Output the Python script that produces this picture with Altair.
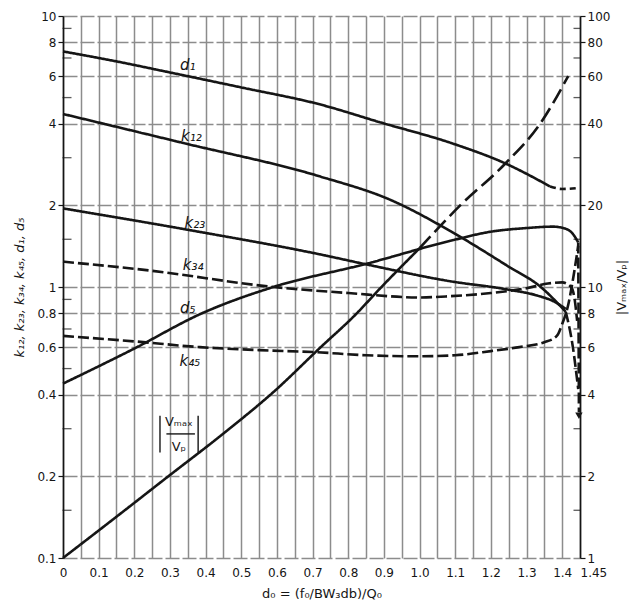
import altair as alt
import pandas as pd

# ---------------- data ----------------
# left-axis curves (solid parts)
d1_x = [0, 0.15, 0.31, 0.5, 0.72, 0.89, 1.094, 1.24, 1.366]
d1_y = [7.4, 6.8, 6.15, 5.45, 4.72, 4.05, 3.38, 2.86, 2.35]
d1_dash_x = [1.366, 1.40, 1.445]
d1_dash_y = [2.35, 2.3, 2.32]

k12_x = [0, 0.337, 0.72, 0.917, 1.10, 1.245, 1.34, 1.41]
k12_y = [4.35, 3.4, 2.56, 2.1, 1.57, 1.2, 1.0, 0.81]
k12_dash_x = [1.41, 1.43, 1.445]
k12_dash_y = [0.81, 0.6, 0.42]

k23_x = [0, 0.357, 0.72, 0.853, 1.086, 1.245, 1.33, 1.38, 1.41]
k23_y = [1.95, 1.62, 1.32, 1.21, 1.05, 0.98, 0.93, 0.88, 0.83]

k34_x = [0, 0.244, 0.59, 0.8, 1.0, 1.086, 1.2, 1.3, 1.36, 1.40, 1.425, 1.435, 1.442]
k34_y = [1.24, 1.15, 1.0, 0.95, 0.915, 0.925, 0.95, 0.99, 1.03, 1.04, 1.0, 0.9, 0.75]

k45_x = [0, 0.2, 0.384, 0.55, 0.707, 0.85, 1.0, 1.1, 1.2, 1.28, 1.35, 1.385, 1.40, 1.417, 1.432, 1.445]
k45_y = [0.66, 0.63, 0.6, 0.585, 0.575, 0.56, 0.555, 0.56, 0.58, 0.6, 0.625, 0.66, 0.73, 0.86, 1.1, 1.42]

d5_x = [0, 0.197, 0.39, 0.59, 0.853, 1.086, 1.2, 1.3, 1.374, 1.41, 1.43, 1.445]
d5_y = [0.44, 0.59, 0.8, 1.0, 1.22, 1.48, 1.6, 1.65, 1.67, 1.64, 1.57, 1.46]
d5_dash_x = [1.445, 1.447]
d5_dash_y = [1.46, 0.345]

# right-axis curve |Vmax/Vp|
vm_x = [0, 0.15, 0.295, 0.45, 0.595, 0.72, 0.82, 0.89, 1.0]
vm_y = [1, 1.42, 2.0, 2.88, 4.15, 5.95, 7.9, 9.9, 13.9]
vm_dash_x = [1.0, 1.114, 1.24, 1.338, 1.417]
vm_dash_y = [13.9, 20, 28.5, 40, 60]

# arrow at the end of the falling dashed line
arrow_x = [1.447]
arrow_y = [0.335]

# curve labels
lab_text = ["d\u2081", "k\u2081\u2082", "k\u2082\u2083", "k\u2083\u2084", "d\u2085", "k\u2084\u2085"]
lab_x = [0.35, 0.36, 0.37, 0.365, 0.35, 0.356]
lab_y = [6.6, 3.6, 1.72, 1.21, 0.835, 0.535]

# |Vmax / Vp| annotation
vlab_text = ["V\u2098\u2090\u2093", "V\u209a"]
vlab_x = [0.325, 0.325]
vlab_y = [0.318, 0.257]
vbar_x = [0.272, 0.379, 0.29]
vbar_x2 = [0.272, 0.379, 0.37]
vbar_y = [0.245, 0.245, 0.287]
vbar_y2 = [0.335, 0.335, 0.287]

# axis values
x_grid_vals = [round(i * 0.05, 2) for i in range(30)]
left_vals = [0.1, 0.2, 0.4, 0.6, 0.8, 1, 2, 4, 6, 8, 10]
right_vals = [1, 2, 4, 6, 8, 10, 20, 40, 60, 80, 100]
minor_left = [0.15, 0.3, 0.5, 0.7, 0.9, 1.5, 3, 5, 7, 9]

# ---------------- tables ----------------
def seg(name, style, xs, ys):
    return pd.DataFrame({"d0": xs, "val": ys, "series": name, "style": style,
                         "ord": list(range(len(xs)))})

left_df = pd.concat([
    seg("d1", "solid", d1_x, d1_y),
    seg("d1b", "short", d1_dash_x, d1_dash_y),
    seg("k12", "solid", k12_x, k12_y),
    seg("k12b", "dash", k12_dash_x, k12_dash_y),
    seg("k23", "solid", k23_x, k23_y),
    seg("k34", "dash", k34_x, k34_y),
    seg("k45", "dash", k45_x, k45_y),
    seg("d5", "solid", d5_x, d5_y),
    seg("d5b", "dash", d5_dash_x, d5_dash_y),
], ignore_index=True)

right_df = pd.concat([
    seg("vm", "solid", vm_x, vm_y),
    seg("vmb", "long", vm_dash_x, vm_dash_y),
], ignore_index=True)

lab_df = pd.DataFrame({"d0": lab_x, "val": lab_y, "t": lab_text})
vlab_df = pd.DataFrame({"d0": vlab_x, "val": vlab_y, "t": vlab_text})
vbar_df = pd.DataFrame({"d0": vbar_x, "d02": vbar_x2, "val": vbar_y, "val2": vbar_y2})
arrow_df = pd.DataFrame({"d0": arrow_x, "val": arrow_y})
minor_df = pd.DataFrame({"val": minor_left})

# ---------------- scales / axes ----------------
FONT = "DejaVu Sans"
INK = "#151515"
GRID = "#8c8c8c"

xscale = alt.Scale(domain=[0, 1.45], nice=False, zero=False)
yl_scale = alt.Scale(type="log", domain=[0.1, 10], nice=False)
yr_scale = alt.Scale(type="log", domain=[1, 100], nice=False)

xaxis = alt.Axis(
    values=x_grid_vals,
    labelExpr="abs(datum.value*10 - round(datum.value*10)) > 0.001 ? (datum.value > 1.44 ? '1.45' : '') : (datum.value == 0 ? '0' : format(datum.value, '.1f'))",
    labelAlign={"expr": "datum.value > 1.44 ? 'left' : 'center'"},
    grid=True, gridColor=GRID, gridWidth=1.5, gridOpacity=1,
    ticks=False, domain=False, labelOverlap=False, labelFlush=False,
    labelFont=FONT, labelFontSize=12, labelColor=INK, labelPadding=9,
    title="d\u2080 = (f\u2080/BW\u2083db)/Q\u2080",
    titleFont=FONT, titleFontSize=13, titleFontWeight="normal", titleColor=INK,
    titlePadding=9,
)

ylaxis = alt.Axis(
    values=left_vals,
    labelExpr="datum.value < 1 ? format(datum.value, '.1f') : format(datum.value, 'd')",
    grid=True, gridColor=GRID, gridWidth=1.4, gridOpacity=1, gridDash=[14, 3],
    domain=True, domainColor=INK, domainWidth=1.6,
    ticks=True, tickSize=5, tickColor=INK, tickWidth=1.2,
    labelFont=FONT, labelFontSize=12, labelColor=INK, labelPadding=2,
    title="k\u2081\u2082, k\u2082\u2083, k\u2083\u2084, k\u2084\u2085, d\u2081, d\u2085",
    titleFont=FONT, titleFontSize=13, titleFontWeight="normal", titleFontStyle="italic",
    titleColor=INK, titlePadding=10,
)

yraxis = alt.Axis(
    orient="right", values=right_vals, format="d",
    grid=False, domain=True, domainColor=INK, domainWidth=1.6,
    ticks=True, tickSize=5, tickColor=INK, tickWidth=1.2,
    labelFont=FONT, labelFontSize=12, labelColor=INK, labelPadding=2,
    title="|V\u2098\u2090\u2093/V\u209a|", titleAngle=270,
    titleFont=FONT, titleFontSize=13, titleFontWeight="normal", titleColor=INK,
    titlePadding=19,
)

dash_scale = alt.Scale(domain=["solid", "dash", "long", "short"],
                       range=[[1, 0], [11, 4], [16, 6], [6, 4]])

X = alt.X("d0:Q", scale=xscale, axis=xaxis)
YL = alt.Y("val:Q", scale=yl_scale, axis=ylaxis)

# ---------------- layers ----------------
lines_left = alt.Chart(left_df).mark_line(
    color=INK, strokeWidth=2.6, interpolate="monotone", strokeCap="butt"
).encode(
    x=X, y=YL,
    detail="series:N",
    strokeDash=alt.StrokeDash("style:N", scale=dash_scale, legend=None),
    order="ord:Q",
)

minor_left_ticks = alt.Chart(minor_df).mark_tick(
    orient="horizontal", size=9, thickness=1.3, color=INK
).encode(x=alt.value(4), y=YL)

minor_right_ticks = alt.Chart(minor_df).mark_tick(
    orient="horizontal", size=7, thickness=1.3, color=INK
).encode(x=alt.value(514), y=YL)

labels = alt.Chart(lab_df).mark_text(
    font=FONT, fontSize=15, fontStyle="italic", color=INK
).encode(x=X, y=YL, text="t:N")

vlabels = alt.Chart(vlab_df).mark_text(
    font=FONT, fontSize=13, color=INK
).encode(x=X, y=YL, text="t:N")

vbars = alt.Chart(vbar_df).mark_rule(color=INK, strokeWidth=1.4).encode(
    x=X, x2="d02:Q", y=YL, y2="val2:Q",
)

arrow = alt.Chart(arrow_df).mark_point(
    shape="triangle-down", filled=True, color=INK, size=55, opacity=1
).encode(x=X, y=YL)

left_group = alt.layer(lines_left, minor_left_ticks, minor_right_ticks,
                       labels, vlabels, vbars, arrow)

line_right = alt.Chart(right_df).mark_line(
    color=INK, strokeWidth=2.6, interpolate="monotone", strokeCap="butt"
).encode(
    x=X,
    y=alt.Y("val:Q", scale=yr_scale, axis=yraxis),
    detail="series:N",
    strokeDash=alt.StrokeDash("style:N", scale=dash_scale, legend=None),
    order="ord:Q",
)

chart = alt.layer(left_group, line_right).resolve_scale(
    y="independent", strokeDash="shared"
).properties(
    width=517, height=542,
    padding={"left": 55, "top": 8, "right": 49, "bottom": 49},
    autosize=alt.AutoSizeParams(type="none"),
    background="white",
).configure_view(stroke=None)

chart.save("out.html", embed_options={"renderer": "svg", "actions": False})
